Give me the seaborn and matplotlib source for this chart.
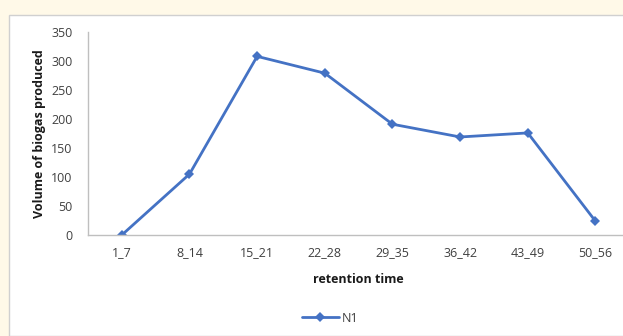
import matplotlib
matplotlib.use("Agg")
import matplotlib.pyplot as plt
import seaborn as sns
import pandas as pd
from matplotlib.patches import Rectangle

categories = ["1_7", "8_14", "15_21", "22_28", "29_35", "36_42", "43_49", "50_56"]
n1_values = [0, 105, 308, 279, 191, 169, 176, 24]
yticks = [0, 50, 100, 150, 200, 250, 300, 350]

df = pd.DataFrame({"retention time": categories, "volume": n1_values, "series": "N1"})

sns.set_theme(style="white")
plt.rcParams['font.family'] = ['Open Sans', 'DejaVu Sans']

fig = plt.figure(figsize=(6.23, 3.36), dpi=100)
fig.patch.set_facecolor("#FFF9E8")
fig.patches.append(Rectangle((9/623, 0), 1, 321/336, transform=fig.transFigure,
                             facecolor="white", edgecolor="#D0D0D0", linewidth=1.0, zorder=-5))

ax = fig.add_axes([88/623, 101/336, (623-88)/623 + 0.01, 203/336])
ax.set_zorder(2)
ax.set_facecolor("none")
x = list(range(len(categories)))
df["x"] = x
sns.lineplot(data=df, x="x", y="volume", hue="series", palette=["#4472C4"], marker="D",
             markersize=5, markeredgewidth=0, linewidth=2, ax=ax)

ax.set_xlim(-0.5, len(categories) - 0.5)
ax.set_ylim(0, 350)
ax.set_xticks(x)
ax.set_xticklabels(categories, fontsize=9, color="#404040")
ax.set_yticks(yticks)
ax.set_yticklabels([str(v) for v in yticks], fontsize=9, color="#404040")
ax.tick_params(axis="x", length=0, pad=8)
ax.tick_params(axis="y", length=0, pad=11)
for s in ["top", "right"]:
    ax.spines[s].set_visible(False)
for s in ["left", "bottom"]:
    ax.spines[s].set_color("#BFBFBF")
    ax.spines[s].set_linewidth(1)
ax.set_xlabel("retention time", fontsize=9, fontweight="bold", color="#1a1a1a", labelpad=10)
ax.set_ylabel("Volume of biogas produced", fontsize=9, fontweight="bold", color="#1a1a1a")
ax.yaxis.set_label_coords(-42/535, 0.5)

leg = ax.legend(loc="center", bbox_to_anchor=(330/623, 18/336), bbox_transform=fig.transFigure,
                frameon=False, fontsize=9, handlelength=3, handletextpad=0.2)
for t in leg.get_texts():
    t.set_color("#404040")

fig.savefig("out.png", dpi=100, facecolor=fig.get_facecolor())
